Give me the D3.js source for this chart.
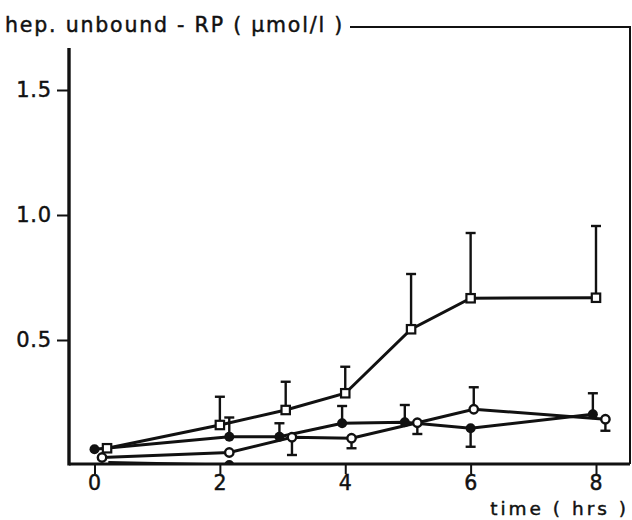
<!DOCTYPE html>
<html>
<head>
<meta charset="utf-8">
<script src="https://cdn.jsdelivr.net/npm/d3@7"></script>
<style>
  body { margin: 0; background: #fff; }
  text { font-family: "DejaVu Sans", sans-serif; fill: #111; stroke: #111; stroke-width: 0.45; }
</style>
</head>
<body>
<div id="content"></div>
<script>
// ******* DATA *******
// time (hrs) and mean values for each series
const squareTimes = [0.2, 2.0, 3.05, 4.0, 5.05, 6.0, 8.0];
const squareValues = [0.067, 0.16, 0.22, 0.287, 0.543, 0.667, 0.669];
const squareErrEnd = [null, 0.273, 0.333, 0.393, 0.764, 0.928, 0.956];

const filledTimes = [0.0, 2.15, 2.95, 3.95, 4.95, 6.0, 7.95];
const filledValues = [0.063, 0.113, 0.113, 0.167, 0.171, 0.147, 0.203];
const filledErrEnd = [null, 0.19, 0.167, 0.236, 0.24, 0.073, 0.287];

const openTimes = [0.12, 2.15, 3.15, 4.1, 5.15, 6.05, 8.15];
const openValues = [0.03, 0.05, 0.111, 0.107, 0.169, 0.223, 0.183];
const openErrEnd = [null, null, 0.04, 0.067, 0.124, 0.311, 0.137];

// trace lying on the time axis
const baseTimes = [0.22, 2.15];
const baseValues = [0.01, 0.0];

const xTicks = [0, 2, 4, 6, 8];
const yTicks = [0.5, 1.0, 1.5];

const yLabel = "hep. unbound - RP ( \u00b5mol/l )";
const xLabel = "time ( hrs )";

// ******* LAYOUT *******
const width = 632, height = 520;
const axisLeft = 69, axisBottom = 464, frameRight = 630, frameTop = 27, axisTop = 48;

const svg = d3.select("#content").append("svg")
    .attr("width", width)
    .attr("height", height);

const x = d3.scaleLinear().domain([0, 8]).range([94.5, 596]);
const y = d3.scaleLinear().domain([0, 1.5]).range([465, 90]);

// frame: title line on top and right side
svg.append("path")
    .attr("d", `M350,${frameTop} H${frameRight} V${axisBottom}`)
    .attr("fill", "none").attr("stroke", "#111").attr("stroke-width", 2);

// y axis
const yAxis = svg.append("g").attr("transform", `translate(${axisLeft},0)`)
    .call(d3.axisLeft(y).tickValues(yTicks).tickFormat(d3.format(".1f")).tickSize(12).tickPadding(5));
yAxis.select(".domain").remove();
yAxis.append("line")
    .attr("x1", 0).attr("x2", 0).attr("y1", axisTop).attr("y2", axisBottom + 1.5)
    .attr("stroke", "#111").attr("stroke-width", 3.4);

// x axis
const xAxis = svg.append("g").attr("transform", `translate(0,${axisBottom})`)
    .call(d3.axisBottom(x).tickValues(xTicks).tickFormat(d3.format("d")).tickSize(10).tickPadding(1));
xAxis.select(".domain").remove();
xAxis.append("line")
    .attr("x1", axisLeft).attr("x2", frameRight).attr("y1", 0).attr("y2", 0)
    .attr("stroke", "#111").attr("stroke-width", 3);

svg.selectAll(".tick line").attr("stroke", "#111").attr("stroke-width", 2);
svg.selectAll(".tick text")
    .attr("font-size", 20.5)
    .attr("letter-spacing", 0.8)
    .style("font-family", "DejaVu Sans, sans-serif")
    .attr("fill", "#111");
yAxis.selectAll(".tick text").attr("font-size", 21);

// axis titles
svg.append("text")
    .attr("x", 5).attr("y", 32)
    .attr("font-size", 20.5)
    .attr("letter-spacing", 1.8)
    .text(yLabel);

svg.append("text")
    .attr("x", 629).attr("y", 515)
    .attr("text-anchor", "end")
    .attr("font-size", 18.5)
    .attr("letter-spacing", 3)
    .text(xLabel);

// ******* SERIES *******
const plot = svg.append("g");

function toPoints(times, values, errs) {
    return times.map((t, i) => ({ t: t, v: values[i], e: errs ? errs[i] : null }));
}

const line = d3.line().x(d => x(d.t)).y(d => y(d.v));

function drawErrors(pts) {
    const g = plot.append("g").attr("stroke", "#111").attr("stroke-width", 2.4);
    pts.filter(d => d.e !== null).forEach(d => {
        g.append("line")
            .attr("x1", x(d.t)).attr("x2", x(d.t))
            .attr("y1", y(d.v)).attr("y2", y(d.e));
        g.append("line")
            .attr("x1", x(d.t) - 5).attr("x2", x(d.t) + 5)
            .attr("y1", y(d.e)).attr("y2", y(d.e));
    });
}

function drawLine(pts) {
    plot.append("path")
        .datum(pts)
        .attr("d", line)
        .attr("fill", "none")
        .attr("stroke", "#111")
        .attr("stroke-width", 3);
}

const squares = toPoints(squareTimes, squareValues, squareErrEnd);
const filled = toPoints(filledTimes, filledValues, filledErrEnd);
const opens = toPoints(openTimes, openValues, openErrEnd);
const base = toPoints(baseTimes, baseValues, null);

// clip everything at the time axis
svg.append("clipPath").attr("id", "plot-clip")
    .append("rect").attr("x", axisLeft).attr("y", 0)
    .attr("width", frameRight - axisLeft).attr("height", axisBottom - 1);
plot.attr("clip-path", "url(#plot-clip)");

[squares, filled, opens].forEach(drawErrors);
[base, opens, filled, squares].forEach(drawLine);

plot.selectAll(".base-dot")
    .data(base.slice(1))
    .join("circle")
    .attr("cx", d => x(d.t)).attr("cy", d => y(d.v))
    .attr("r", 5).attr("fill", "#111");

plot.selectAll(".open-dot")
    .data(opens)
    .join("circle")
    .attr("cx", d => x(d.t)).attr("cy", d => y(d.v))
    .attr("r", 4.2).attr("fill", "#fff")
    .attr("stroke", "#111").attr("stroke-width", 2.4);

plot.selectAll(".filled-dot")
    .data(filled)
    .join("circle")
    .attr("cx", d => x(d.t)).attr("cy", d => y(d.v))
    .attr("r", 5).attr("fill", "#111");

plot.selectAll(".square-dot")
    .data(squares)
    .join("rect")
    .attr("x", d => x(d.t) - 4.2).attr("y", d => y(d.v) - 4.2)
    .attr("width", 8.4).attr("height", 8.4)
    .attr("fill", "#fff")
    .attr("stroke", "#111").attr("stroke-width", 2.2);
</script>
</body>
</html>
